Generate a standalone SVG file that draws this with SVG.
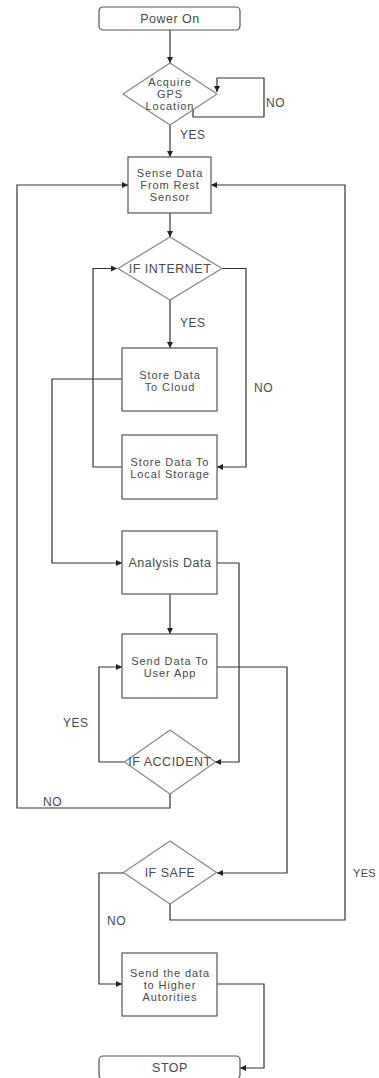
<svg xmlns="http://www.w3.org/2000/svg" width="379" height="1078" viewBox="0 0 379 1078">
<style>
.box{fill:#fff;stroke:#555;stroke-width:1.2}
.dia{fill:#fff;stroke:#888;stroke-width:1.2}
.t{font-family:"Liberation Sans",Arial,sans-serif;font-size:12.5px;letter-spacing:0.5px;fill:#4a4a4a;text-anchor:middle;dominant-baseline:central}
.m{font-size:11px;letter-spacing:0.9px}
.lbl{font-family:"Liberation Sans",Arial,sans-serif;font-size:12px;letter-spacing:0.5px;fill:#4a4a4a;dominant-baseline:central}
.c{fill:none;stroke:#333;stroke-width:1.2}
</style>
<defs>
<marker id="ah" viewBox="0 0 10 10" refX="10" refY="5" markerWidth="7" markerHeight="6" markerUnits="userSpaceOnUse" orient="auto"><path d="M0,0 L10,5 L0,10 z" fill="#222"/></marker>
</defs>
<rect width="379" height="1078" fill="#fff"/>
<g id="connectors">
<path class="c" marker-end="url(#ah)" d="M170,30 V63"/>
<path class="c" marker-end="url(#ah)" d="M193,109.5 V117 H264 V78 H217 V92"/>
<path class="c" marker-end="url(#ah)" d="M170,125 V157"/>
<path class="c" marker-end="url(#ah)" d="M170,213 V237"/>
<path class="c" marker-end="url(#ah)" d="M170,300 V348"/>
<path class="c" marker-end="url(#ah)" d="M222,268.5 H246 V467 H217"/>
<path class="c" marker-end="url(#ah)" d="M122,467 H93 V268.5 H117"/>
<path class="c" marker-end="url(#ah)" d="M122,379 H52 V563 H122"/>
<path class="c" marker-end="url(#ah)" d="M217,563 H239 V762 H215"/>
<path class="c" marker-end="url(#ah)" d="M170,594 V634"/>
<path class="c" marker-end="url(#ah)" d="M124,762 H99 V667 H122"/>
<path class="c" marker-end="url(#ah)" d="M170,794 V808 H17 V185 H128"/>
<path class="c" marker-end="url(#ah)" d="M217,667 H287 V873 H217"/>
<path class="c" marker-end="url(#ah)" d="M124,873 H99 V984 H122"/>
<path class="c" marker-end="url(#ah)" d="M170,904 V920 H345 V185 H211"/>
<path class="c" marker-end="url(#ah)" d="M217,984 H264 V1068 H240"/>
</g>
<g id="labels">
<text class="lbl" x="266" y="103">NO</text>
<text class="lbl" x="180" y="135">YES</text>
<text class="lbl" x="180" y="323">YES</text>
<text class="lbl" x="254" y="388">NO</text>
<text class="lbl" x="63" y="723">YES</text>
<text class="lbl" x="43" y="802">NO</text>
<text class="lbl" x="353" y="873" style="font-size:11px;letter-spacing:0.3px">YES</text>
<text class="lbl" x="107" y="921">NO</text>
</g>
<g id="power-on"><rect class="box" x="99" y="7" width="141" height="23" rx="4"/><text class="t" x="170" y="18.5">Power On</text></g>
<g id="gps"><path class="dia" d="M170,63 L217,94 L170,125 L123,94 Z"/><text class="t m" x="170" y="82">Acquire</text><text class="t m" x="170" y="94">GPS</text><text class="t m" x="170" y="106">Location</text></g>
<g id="sense"><rect class="box" x="128" y="157" width="83" height="56"/><text class="t m" x="170" y="173">Sense Data</text><text class="t m" x="170" y="185">From Rest</text><text class="t m" x="170" y="197">Sensor</text></g>
<g id="if-internet"><path class="dia" d="M170,237 L222,268.5 L170,300 L118,268.5 Z"/><text class="t" x="170" y="268.5">IF INTERNET</text></g>
<g id="store-cloud"><rect class="box" x="122" y="348" width="95" height="63"/><text class="t m" x="170" y="374.5">Store Data</text><text class="t m" x="170" y="386.5">To Cloud</text></g>
<g id="store-local"><rect class="box" x="122" y="435" width="95" height="64"/><text class="t m" x="170" y="461.5">Store Data To</text><text class="t m" x="170" y="473.5">Local Storage</text></g>
<g id="analysis"><rect class="box" x="122" y="531" width="95" height="63"/><text class="t" x="170" y="563">Analysis Data</text></g>
<g id="send-app"><rect class="box" x="122" y="634" width="95" height="64"/><text class="t m" x="170" y="660.5">Send Data To</text><text class="t m" x="170" y="672.5">User App</text></g>
<g id="if-accident"><path class="dia" d="M170,730 L215.5,762 L170,794 L124.5,762 Z"/><text class="t" x="170" y="762">IF ACCIDENT</text></g>
<g id="if-safe"><path class="dia" d="M170,841 L216.5,872.5 L170,904 L123.5,872.5 Z"/><text class="t" x="170" y="872.5">IF SAFE</text></g>
<g id="send-higher"><rect class="box" x="122" y="953" width="95" height="63"/><text class="t m" x="170" y="973">Send the data</text><text class="t m" x="170" y="985">to Higher</text><text class="t m" x="170" y="997">Autorities</text></g>
<g id="stop"><rect class="box" x="99" y="1056" width="141" height="23" rx="4"/><text class="t" x="170" y="1068">STOP</text></g>
</svg>
